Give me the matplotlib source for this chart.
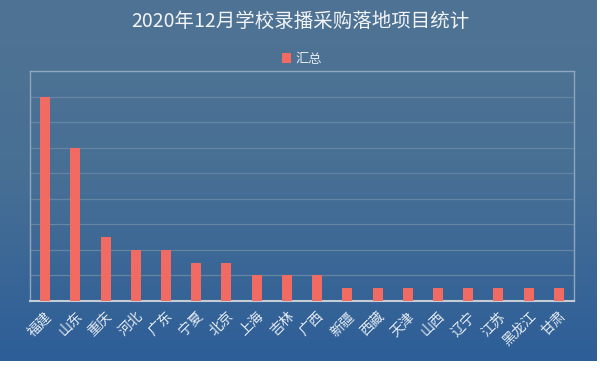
import matplotlib.pyplot as plt
import numpy as np
from matplotlib.colors import LinearSegmentedColormap

plt.rcParams['font.family'] = ['Noto Sans CJK SC', 'DejaVu Sans']

provinces = ['福建', '山东', '重庆', '河北', '广东', '宁夏', '北京', '上海', '吉林', '广西',
             '新疆', '西藏', '天津', '山西', '辽宁', '江苏', '黑龙江', '甘肃']
counts = [16, 12, 5, 4, 4, 3, 3, 2, 2, 2, 1, 1, 1, 1, 1, 1, 1, 1]

fig = plt.figure(figsize=(6, 3.7), dpi=100, facecolor='white')

# Hintergrund mit Farbverlauf
bg = fig.add_axes([0, 9 / 370, 597 / 600, 361 / 370])
cmap = LinearSegmentedColormap.from_list('bg', ['#4f7393', '#476f95', '#2d5e98'])
grad = np.linspace(0, 1, 256).reshape(-1, 1)
bg.imshow(grad, aspect='auto', cmap=cmap, extent=[0, 1, 0, 1], origin='upper')
bg.axis('off')

ax = fig.add_axes([30 / 600, 69 / 370, 544 / 600, 230 / 370])
ax.set_facecolor('none')
x = np.arange(len(provinces))
ax.bar(x, counts, width=0.33, color='#f26b63', zorder=3, label='汇总')

ax.set_xlim(-0.5, len(provinces) - 0.5)
ax.set_ylim(0, 18)
ax.set_yticks(np.arange(0, 19, 2))
ax.tick_params(axis='y', length=0, labelleft=False)
ax.yaxis.grid(True, color='#6585a3', linewidth=0.9, zorder=0)
ax.set_xticks(x)
ax.set_xticklabels(provinces, rotation=45, ha='right', rotation_mode='anchor',
                   color='#e6ecf2', fontsize=10)
ax.tick_params(axis='x', length=0, pad=6)

for side in ['left', 'top', 'right']:
    ax.spines[side].set_color('#8ea7be')
    ax.spines[side].set_linewidth(1)
ax.spines['bottom'].set_color('#c4ccd6')
ax.spines['bottom'].set_linewidth(1.5)

fig.text(0.5, 1 - 21 / 370, '2020年12月学校录播采购落地项目统计', ha='center', va='center',
         color='#f2f4f7', fontsize=14)
ax.legend(loc='center', bbox_to_anchor=(0.5, 1 + 12 / 230), frameon=False, fontsize=9.5,
          labelcolor='#e6ecf2', handlelength=0.7, handleheight=0.7, handletextpad=0.3,
          borderpad=0)

plt.savefig('out.png', dpi=100, facecolor='white')
